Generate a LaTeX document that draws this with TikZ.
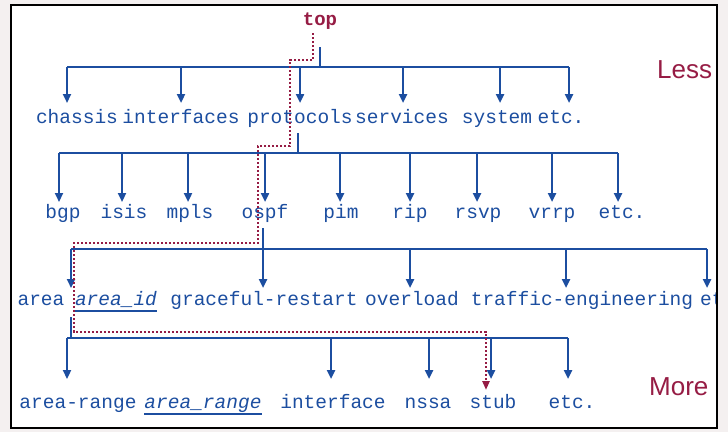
\documentclass[tikz,border=0pt]{standalone}
\usepackage{fontspec}
\setmonofont{Liberation Mono}
\setsansfont{Liberation Sans}
\usetikzlibrary{arrows.meta}
\definecolor{jblue}{RGB}{28,78,160}
\definecolor{jred}{RGB}{150,28,68}
\definecolor{bgout}{RGB}{244,240,240}
\begin{document}
\begin{tikzpicture}[x=1pt,y=-1pt,
  lbl/.style={anchor=base, inner sep=0pt, text=jblue, font=\ttfamily\fontsize{19.5}{19.5}\selectfont},
  toplbl/.style={anchor=base, inner sep=0pt, text=jred, font=\ttfamily\bfseries\fontsize{19}{19}\selectfont},
  bl/.style={draw=jblue, line width=2.8pt},
  arr/.style={draw=jblue, line width=2.8pt, -{Triangle[width=8pt,length=9pt]}},
  rp/.style={draw=jred, line width=2.6pt, dash pattern=on 2.2pt off 1.8pt, -{Triangle[width=7pt,length=9pt]}},
  side/.style={anchor=base west, inner sep=0pt, text=jred, font=\sffamily\fontsize{26}{26}\selectfont},
  ul/.style={draw=jblue, line width=1.6pt}]
\fill[bgout] (0,0) rectangle (728,432);
\useasboundingbox (0,0) rectangle (728,432);
\fill[white] (11,5) rectangle (717,428);
\begin{scope}
\clip (11,5) rectangle (717,428);
% labels
\node[toplbl] (top) at (320,25) {top};
\node[lbl] (chassis) at (77,123) {chassis};
\node[lbl] (interfaces) at (181,123) {interfaces};
\node[lbl] (protocols) at (300,123) {protocols};
\node[lbl] (services) at (402,123) {services};
\node[lbl] (system) at (497,123) {system};
\node[lbl] (etcA) at (561,123) {etc.};
\node[lbl] (bgp) at (63,218) {bgp};
\node[lbl] (isis) at (124,218) {isis};
\node[lbl] (mpls) at (190,218) {mpls};
\node[lbl] (ospf) at (265,218) {ospf};
\node[lbl] (pim) at (341,218) {pim};
\node[lbl] (rip) at (410,218) {rip};
\node[lbl] (rsvp) at (478,218) {rsvp};
\node[lbl] (vrrp) at (552,218) {vrrp};
\node[lbl] (etcB) at (622,218) {etc.};
\node[lbl] (area) at (41,305) {area};
\node[lbl] (areaid) at (116,305) {\textit{area\_id}};
\node[lbl] (graceful) at (264,305) {graceful-restart};
\node[lbl] (overload) at (412,305) {overload};
\node[lbl] (traffic) at (582,305) {traffic-engineering};
\node[lbl, anchor=base west] (etcC) at (700,305) {etc.};
\node[lbl] (arearange) at (78,408) {area-range};
\node[lbl] (arearangev) at (203,408) {\textit{area\_range}};
\node[lbl] (interface) at (333,408) {interface};
\node[lbl] (nssa) at (428,408) {nssa};
\node[lbl] (stub) at (493,408) {stub};
\node[lbl] (etcD) at (572,408) {etc.};
\draw[ul] ([yshift=-6pt]areaid.base west) -- ([yshift=-6pt]areaid.base east);
\draw[ul] ([yshift=-6pt]arearangev.base west) -- ([yshift=-6pt]arearangev.base east);
% level 1
\coordinate (t1) at (320,47); \coordinate (k1) at (320,67);
\draw[bl] (t1) -- (k1);
\coordinate (L1) at (67,67); \coordinate (R1) at (569,67);
\draw[bl] (L1) -- (R1);
\foreach \x/\n in {67/chassis,181/interfaces,300/protocols,403/services,500/system,569/etcA}{
  \coordinate (\n-in) at (\x,103);
  \draw[arr] (\n-in |- k1) -- (\n-in);
}
% level 2
\coordinate (t2) at (298,133); \coordinate (k2) at (298,153);
\draw[bl] (t2) -- (k2);
\coordinate (L2) at (59,153); \coordinate (R2) at (618,153);
\draw[bl] (L2) -- (R2);
\foreach \x/\n in {59/bgp,122/isis,188/mpls,265/ospf,340/pim,410/rip,477/rsvp,552/vrrp,618/etcB}{
  \coordinate (\n-in) at (\x,202);
  \draw[arr] (\n-in |- k2) -- (\n-in);
}
% level 3
\coordinate (t3) at (263,228); \coordinate (k3) at (263,249);
\draw[bl] (t3) -- (k3);
\coordinate (L3) at (71,249); \coordinate (R3) at (707,249);
\draw[bl] (L3) -- (R3);
\foreach \x/\n in {71/area,263/graceful,410/overload,566/traffic,707/etcC}{
  \coordinate (\n-in) at (\x,288);
  \draw[arr] (\n-in |- k3) -- (\n-in);
}
% level 4
\coordinate (t4) at (71,317); \coordinate (k4) at (71,338);
\draw[bl] (t4) -- (k4);
\coordinate (L4) at (67,338); \coordinate (R4) at (568,338);
\draw[bl] (L4) -- (R4);
\foreach \x/\n in {67/arearange,331/interface,429/nssa,491/stub,568/etcD}{
  \coordinate (\n-in) at (\x,379);
  \draw[arr] (\n-in |- k4) -- (\n-in);
}
% red path
\coordinate (rp0) at (313,33);
\coordinate (rpE) at (486,390);
\draw[rp] (rp0) -- (313,60) -- (290,60) -- (290,146) -- (258,146) -- (258,243) -- (74,243) -- (74,332) -- (486,332) -- (rpE);
\node[side] (less) at (657,78) {Less};
\node[side] (more) at (649,395) {More};
\end{scope}
\draw[line width=2pt] (11,5) rectangle (717,428);
\end{tikzpicture}
\end{document}
